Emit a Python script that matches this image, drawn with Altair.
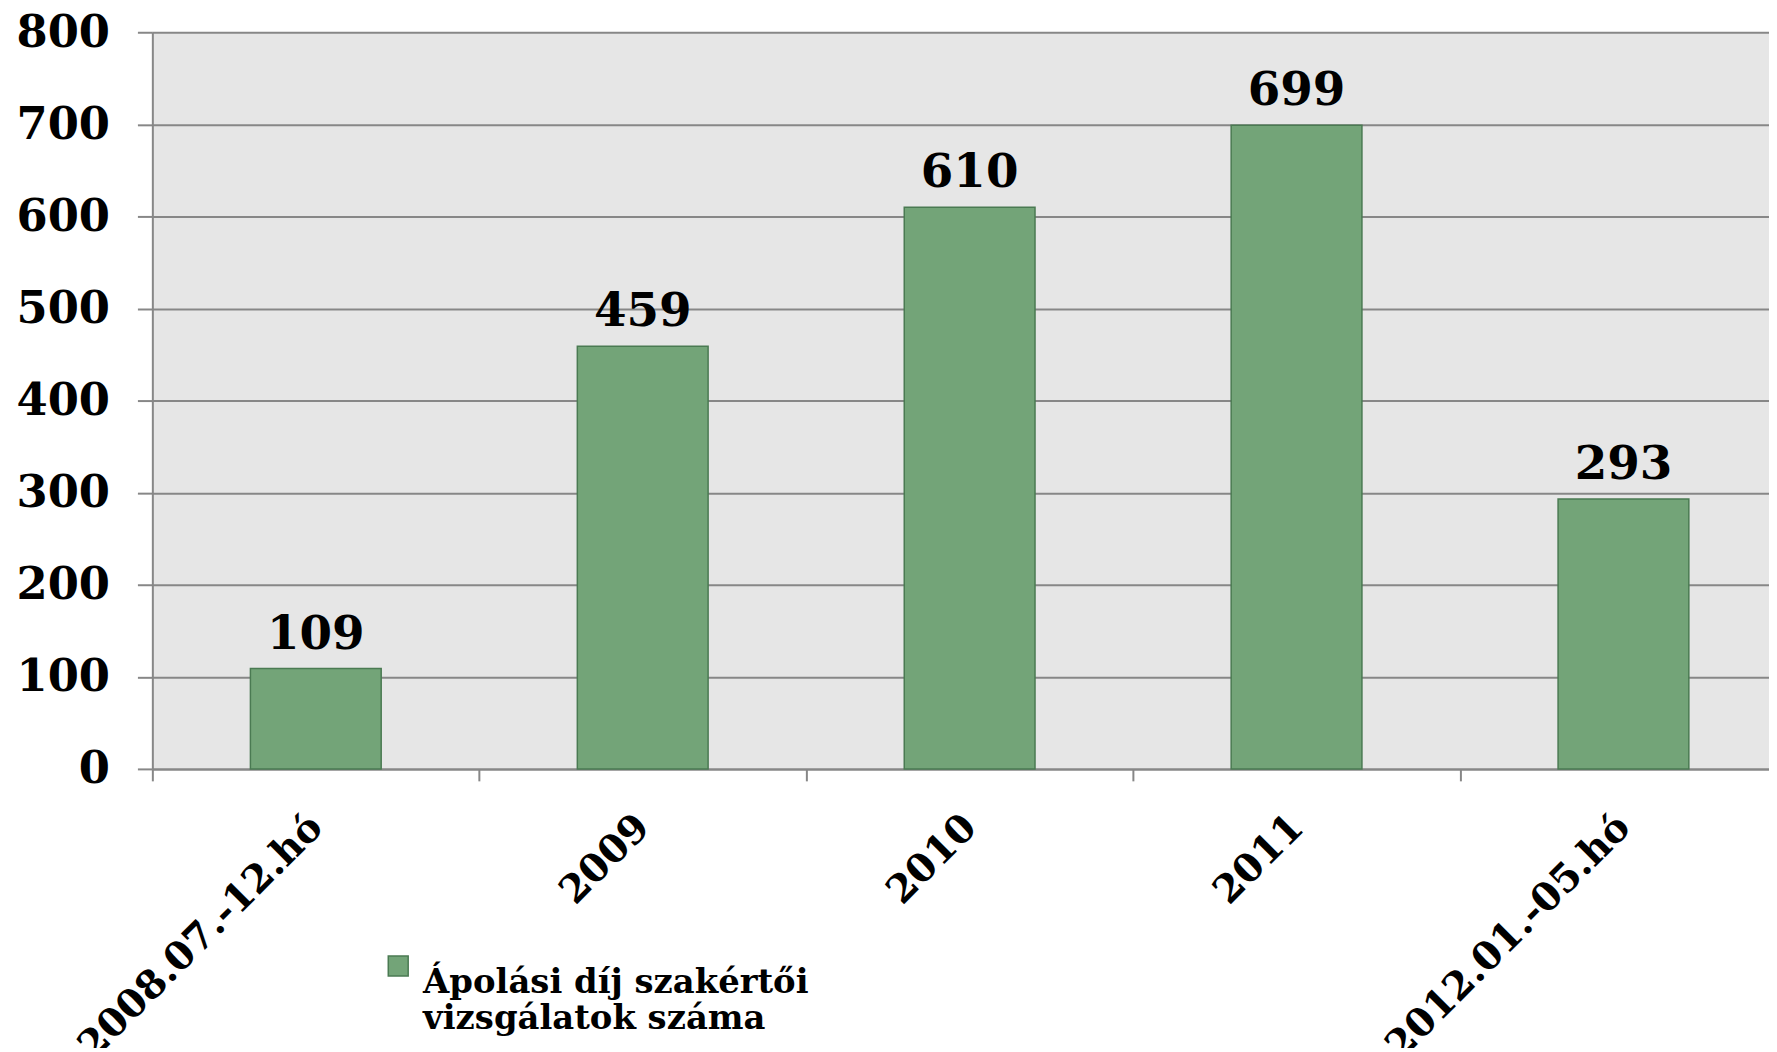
import altair as alt
import pandas as pd

categories = ["2008.07.-12.hó", "2009", "2010", "2011", "2012.01.-05.hó"]
values = [109, 459, 610, 699, 293]
series_name = "Ápolási díj szakértői\nvizsgálatok száma"
y_ticks = [0, 100, 200, 300, 400, 500, 600, 700, 800]

df = pd.DataFrame({"cat": categories, "val": values, "series": [series_name] * len(categories)})

FONT = "DejaVu Serif"
GREEN = "#73A478"
EDGE = "#4A7A52"
GRAY = "#878787"

xscale = alt.Scale(paddingInner=0, paddingOuter=0, range=[0, 1642])

x = alt.X(
    "cat:N", sort=categories, title=None, scale=xscale,
    axis=alt.Axis(
        labelAngle=315, labelFontSize=39, labelFont=FONT, labelFontWeight="bold",
        labelColor="black", labelAlign="right", labelBaseline="middle",
        labelPadding=40, labelLimit=1000, tickBand="extent", tickSize=12,
        tickColor=GRAY, tickWidth=2, domainColor=GRAY, domainWidth=2, grid=False,
    ),
)
y = alt.Y(
    "val:Q", title=None,
    scale=alt.Scale(domain=[0, 800], nice=False),
    axis=alt.Axis(
        values=y_ticks, labelFontSize=45, labelFont=FONT, labelFontWeight="bold",
        labelColor="black", labelPadding=28, tickSize=15, tickColor=GRAY, tickWidth=2,
        domainColor=GRAY, domainWidth=2, grid=True, gridColor=GRAY, gridWidth=2,
    ),
)

bars = alt.Chart(df).mark_bar(
    width=alt.RelativeBandSize(0.4), stroke=EDGE, strokeWidth=1.5
).encode(
    x=x, y=y,
    color=alt.Color(
        "series:N", scale=alt.Scale(range=[GREEN]),
        legend=alt.Legend(
            title=None, orient="none", legendX=230, legendY=921, padding=0,
            symbolType="square", symbolSize=400, symbolStrokeColor=EDGE,
            symbolStrokeWidth=1.5, symbolFillColor=GREEN,
            labelFont=FONT, labelFontSize=34, labelFontWeight="bold", labelColor="black",
            labelExpr="split(datum.label, '\\n')", labelLimit=1000,
            labelBaseline="top", labelOffset=8,
        ),
    ),
)

labels = alt.Chart(df).mark_text(
    dy=-20, baseline="alphabetic", font=FONT, fontSize=47, fontWeight="bold", color="black"
).encode(x=alt.X("cat:N", sort=categories, scale=xscale), y="val:Q", text="val:Q")

chart = (bars + labels).properties(
    width=1624, height=740,
    autosize=alt.AutoSizeParams(type="none"),
    padding={"left": 145, "top": 22, "right": 0, "bottom": 278},
).configure_view(fill="#E6E6E6", strokeWidth=0)

chart.save("out.html", embed_options={"renderer": "svg", "actions": False})
